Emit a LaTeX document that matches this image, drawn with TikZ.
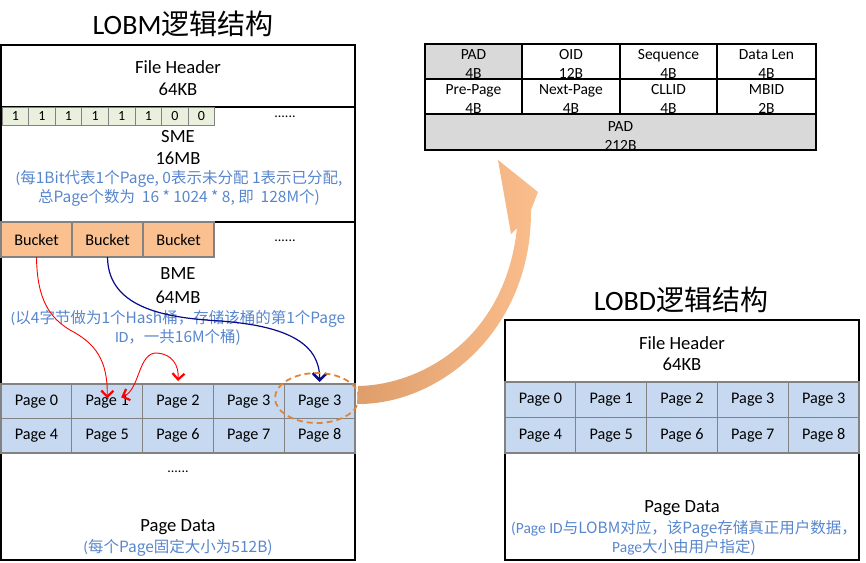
\documentclass[tikz,border=0pt]{standalone}
\usepackage{fontspec}
\setmainfont{Carlito}
\newfontfamily\cjk{Noto Sans CJK SC}
\usetikzlibrary{arrows.meta,shapes.geometric}
\definecolor{pagefill}{RGB}{198,217,240}
\definecolor{gridgray}{RGB}{130,130,130}
\definecolor{bucketfill}{RGB}{250,192,144}
\definecolor{bitfill}{RGB}{234,240,222}
\definecolor{padfill}{RGB}{217,217,217}
\definecolor{notecol}{RGB}{88,134,205}
\definecolor{bigarrow}{RGB}{250,190,140}
\definecolor{bigarrowdark}{RGB}{222,158,108}
\definecolor{ringcol}{RGB}{228,132,50}
\definecolor{navyarrow}{RGB}{10,10,140}
\newcommand{\fsz}[2]{\fontsize{#1}{#2}\selectfont}
\begin{document}
\begin{tikzpicture}[x=1pt,y=-1pt,
  every node/.style={inner sep=0pt, outer sep=0pt},
  section/.style={draw=black, line width=1.6pt, anchor=north west, minimum width=354pt},
  cellbox/.style={draw=gridgray, line width=1.3pt, anchor=north west, font=\fsz{16.2}{18}},
  pagebox/.style={cellbox, fill=pagefill, minimum width=70.8pt, minimum height=34.5pt},
  bucketbox/.style={cellbox, fill=bucketfill, minimum width=71pt, minimum height=35pt},
  bitbox/.style={draw=gridgray, line width=0.9pt, fill=bitfill, anchor=north west, minimum width=26.6pt, minimum height=18pt, font=\fsz{14}{16}},
  bigtext/.style={align=center, font=\fsz{18.6}{22}},
  note/.style={align=center, text=notecol, font=\fsz{15.5}{19}},
  titletext/.style={font=\fsz{28}{32}},
  dots/.style={font=\fsz{14}{16}},
  tabbox/.style={draw=black, line width=1.3pt, anchor=north west, minimum height=35pt},
  tabtext/.style={align=center, font=\fsz{15.5}{19}},
  redarrow/.style={red, line width=0.9pt},
  bluearrow/.style={navyarrow, line width=1.2pt},
]
\useasboundingbox (0,0) rectangle (866,562);

% ---------------- LOBM ----------------
\node[titletext] (lobmtitle) at (183,24) {LOBM\cjk{逻辑结构}};
\node[section, minimum height=62pt] (hdr) at (1,45) {};
\node[section, minimum height=115pt] (sme) at (1,107) {};
\node[section, minimum height=162pt] (bme) at (1,222) {};
\node[section, minimum height=107pt] (pdata) at (1,453) {};

\node[bigtext] (hdrtext) at (178,78) {File Header\\64KB};

\foreach \b [count=\i from 0] in {1,1,1,1,1,1,0,0}
  \node[bitbox] (bit\i) at ({2+26.6*\i},107) {\b};
\node[dots] (smedots) at (285,117) {......};
\node[bigtext] (smetext) at (178,148) {SME\\16MB};
\node[note] (smenote) at (179,188.5) {(\cjk{每}1Bit\cjk{代表}1\cjk{个}Page, 0\cjk{表示未分配} 1\cjk{表示已分配},\\\cjk{总}Page\cjk{个数为}\ \ 16 * 1024 * 8, \cjk{即}\ \ 128M\cjk{个})};

\foreach \i in {0,1,2}
  \node[bucketbox] (b\i) at ({1+71*\i},222) {Bucket};
\node[dots] (bmedots) at (285,241) {......};
\node[bigtext, font=\fsz{18.6}{24}] (bmetext) at (178,285.5) {BME\\64MB};
\node[note] (bmenote) at (178,327.5) {(\cjk{以}4\cjk{字节做为}1\cjk{个}Hash\cjk{桶，存储该桶的第}1\cjk{个}Page\\ID\cjk{，一共}16M\cjk{个桶})};

\foreach \lab [count=\i from 0] in {Page 0,Page 1,Page 2,Page 3,Page 3}
  \node[pagebox] (lp\i) at ({1+70.8*\i},384) {\lab};
\foreach \lab [count=\i from 0] in {Page 4,Page 5,Page 6,Page 7,Page 8}
  \node[pagebox] (lq\i) at ({1+70.8*\i},418.5) {\lab};

\node[dots] (pdots) at (178,472) {......};
\node[bigtext] (pdtext) at (178,527) {Page Data};
\node[note] (pdnote) at (178,548) {(\cjk{每个}Page\cjk{固定大小为}512B)};

% ---------------- LOBD ----------------
\node[titletext] (lobdtitle) at (681,300) {LOBD\cjk{逻辑结构}};
\node[section, minimum height=62pt] (rhdr) at (505,320) {};
\node[section, minimum height=107pt] (rdata) at (505,453) {};
\node[bigtext, font=\fsz{18.6}{21}] (rhdrtext) at (682,353.5) {File Header\\64KB};
\foreach \lab [count=\i from 0] in {Page 0,Page 1,Page 2,Page 3,Page 3}
  \node[pagebox, minimum height=35.5pt] (rp\i) at ({505+70.8*\i},382) {\lab};
\foreach \lab [count=\i from 0] in {Page 4,Page 5,Page 6,Page 7,Page 8}
  \node[pagebox, minimum height=35.5pt] (rq\i) at ({505+70.8*\i},417.5) {\lab};
\node[bigtext] (rpdtext) at (682,508) {Page Data};
\node[note] (rpdnote) at (684,537.5) {(Page ID\cjk{与}LOBM\cjk{对应，该}Page\cjk{存储真正用户数据，}\\Page\cjk{大小由用户指定})};

% ---------------- record table ----------------
\node[tabbox, fill=padfill, minimum width=97pt] (t11) at (425,44) {};
\node[tabbox, minimum width=98pt] (t12) at (522,44) {};
\node[tabbox, minimum width=97pt] (t13) at (620,44) {};
\node[tabbox, minimum width=99pt] (t14) at (717,44) {};
\node[tabbox, minimum width=97pt] (t21) at (425,79) {};
\node[tabbox, minimum width=98pt] (t22) at (522,79) {};
\node[tabbox, minimum width=97pt] (t23) at (620,79) {};
\node[tabbox, minimum width=99pt] (t24) at (717,79) {};
\node[tabbox, fill=padfill, minimum width=391pt, minimum height=36pt] (t31) at (425,114) {};
\node[draw=black, line width=1.8pt, anchor=north west, minimum width=391pt, minimum height=106pt] (tframe) at (425,44) {};
\node[tabtext] (tt11) at ([yshift=-2.5pt]t11.center) {PAD\\4B};
\node[tabtext] (tt12) at ([yshift=-2.5pt]t12.center) {OID\\12B};
\node[tabtext] (tt13) at ([yshift=-2.5pt]t13.center) {Sequence\\4B};
\node[tabtext] (tt14) at ([yshift=-2.5pt]t14.center) {Data Len\\4B};
\node[tabtext] (tt21) at ([yshift=-2.5pt]t21.center) {Pre-Page\\4B};
\node[tabtext] (tt22) at ([yshift=-2.5pt]t22.center) {Next-Page\\4B};
\node[tabtext] (tt23) at ([yshift=-2.5pt]t23.center) {CLLID\\4B};
\node[tabtext] (tt24) at ([yshift=-2.5pt]t24.center) {MBID\\2B};
\node[tabtext] (tt31) at ([yshift=-4pt]t31.center) {PAD\\212B};

% ---------------- connectors ----------------
\draw[redarrow, -{Straight Barb[length=6pt,width=12pt,line width=2.2pt]}]
  (b0.south) .. controls (37,300) and (50,318) .. (70,330)
  .. controls (95,343) and (108,360) .. ([yshift=3pt]lp1.center);
\draw[redarrow, {Straight Barb[length=6pt,width=12pt,line width=2.2pt]}-{Straight Barb[length=6pt,width=12pt,line width=2.2pt]}]
  ([xshift=14pt,yshift=4pt]lp1.center) .. controls (140,390) and (138,352) .. (157,353)
  .. controls (172,354) and (179,365) .. ([yshift=3pt]lp2.north);
\draw[bluearrow, -{Straight Barb[length=7pt,width=14pt,line width=2.6pt]}]
  (b1.south) .. controls (108,310) and (170,318) .. (220,321)
  .. controls (290,326) and (320,345) .. ([yshift=2pt]lp4.north);

\node[draw=ringcol, line width=1.8pt, dash pattern=on 6pt off 4pt, ellipse, minimum width=84pt, minimum height=50pt] (ring) at (317,398) {};

\shade[left color=bigarrowdark, middle color=bigarrow, right color=bigarrow]
  (358,386) .. controls (420,385) and (505,340) .. (517,228)
  -- (511,234) -- (498,160) -- (538,192) -- (531,210)
  .. controls (532,330) and (440,405) .. (357,404) -- cycle;
\end{tikzpicture}
\end{document}
